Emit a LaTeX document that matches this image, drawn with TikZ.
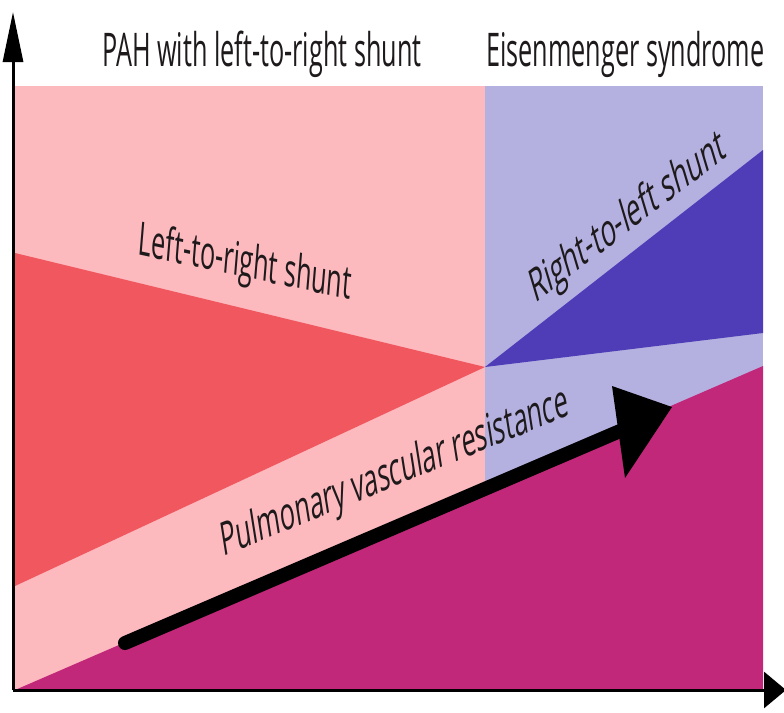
\documentclass[tikz,border=0pt]{standalone}
\usepackage{fontspec}
\usepackage{graphicx}
\usetikzlibrary{arrows.meta}
\newfontfamily\lblfont{Open Sans}[FakeStretch=0.87]
\definecolor{pinkbg}{HTML}{FCB9BE}
\definecolor{lavbg}{HTML}{B4B1E1}
\definecolor{redtri}{HTML}{F1575F}
\definecolor{bluetri}{HTML}{4E3DB6}
\definecolor{magbg}{HTML}{C2287A}
\definecolor{txt}{HTML}{1E1A1C}
\begin{document}
\begin{tikzpicture}[x=1pt,y=-1pt,
  lbl/.style={inner sep=0pt, text=txt, font=\lblfont\fontsize{29}{34}\selectfont},
  axisline/.style={line width=3pt, black}]
\useasboundingbox (0,0) rectangle (784,712);
% background regions
\fill[pinkbg] (15,86) rectangle (485,690);
\fill[lavbg] (485,86) rectangle (763,690);
\fill[redtri] (15,253) -- (485,367) -- (15,586) -- cycle;
\fill[bluetri] (485,367) -- (763,150) -- (763,333) -- cycle;
\fill[magbg] (15,690) -- (763,366) -- (763,690) -- cycle;
% thick arrow
\coordinate (pvrA) at (125,643);
\coordinate (pvrB) at (620,431);
\draw[line width=14pt, line cap=round] (pvrA) -- (pvrB);
\fill (612,386) -- (672,407) -- (625,478) -- cycle;
% axes
\coordinate (O) at (13,690);
\coordinate (Ytop) at (13,12);
\coordinate (Xend) at (786,690);
\draw[axisline, -{Triangle[width=20pt,length=50pt]}] (O) -- (Ytop);
\draw[axisline, -{Triangle[width=36pt,length=22pt]}] (O) -- (Xend);
% labels
\node[lbl, anchor=base west] (t1) at (102,66) {\scalebox{1}[1.6]{PAH with left-to-right shunt}};
\node[lbl, anchor=base west] (t2) at (486,66) {\scalebox{1}[1.6]{Eisenmenger syndrome}};
\node[lbl] (l2r) at (245,265) {\scalebox{1}[1.6]{\rotatebox{-7.6}{Left-to-right shunt}}};
\node[lbl] (r2l) at (628,219) {\scalebox{1}[1.6]{\rotatebox{25.6}{Right-to-left shunt}}};
\node[lbl] (pvr) at (395,474) {\scalebox{1}[1.6]{\rotatebox{14.3}{Pulmonary vascular resistance}}};
\end{tikzpicture}
\end{document}
